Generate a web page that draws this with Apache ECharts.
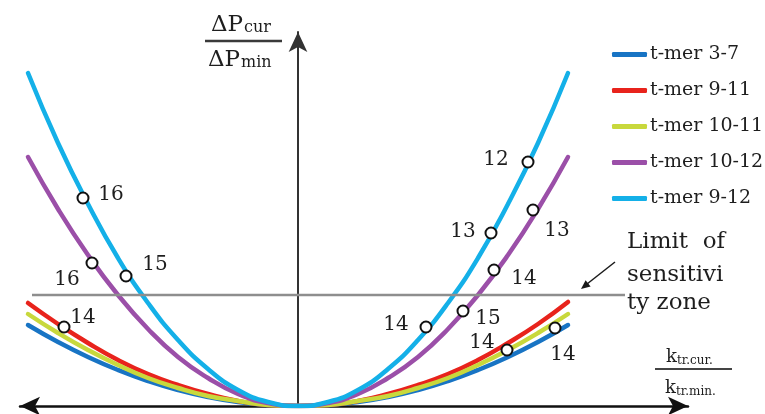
<!DOCTYPE html>
<html>
<head>
<meta charset="utf-8">
<script src="https://cdn.jsdelivr.net/npm/echarts@6.0.0/dist/echarts.min.js"></script>
<style>
  html, body { margin: 0; padding: 0; background: #ffffff; }
  #chart { width: 765px; height: 414px; }
</style>
</head>
<body>
<div id="chart"></div>
<script>
// Relative transformation ratio (0 = minimum-loss point) and relative loss increase
const ratioSteps = [-2.7, -2.4, -2.1, -1.8, -1.5, -1.2, -0.9, -0.6, -0.3, 0, 0.3, 0.6, 0.9, 1.2, 1.5, 1.8, 2.1, 2.4, 2.7];

const seriesNames = ['t-mer 3-7', 't-mer 9-11', 't-mer 10-11', 't-mer 10-12', 't-mer 9-12'];

const tmer3to7   = [0.81, 0.64, 0.49, 0.36, 0.25, 0.16, 0.09, 0.04, 0.01, 0, 0.01, 0.04, 0.09, 0.16, 0.25, 0.36, 0.49, 0.64, 0.81];
const tmer9to11  = [1.03, 0.82, 0.63, 0.46, 0.32, 0.21, 0.12, 0.05, 0.01, 0, 0.01, 0.05, 0.12, 0.21, 0.32, 0.46, 0.63, 0.82, 1.04];
const tmer10to11 = [0.92, 0.73, 0.56, 0.41, 0.28, 0.18, 0.10, 0.05, 0.01, 0, 0.01, 0.05, 0.10, 0.18, 0.28, 0.41, 0.56, 0.73, 0.92];
const tmer10to12 = [2.49, 1.97, 1.51, 1.11, 0.77, 0.49, 0.28, 0.12, 0.03, 0, 0.03, 0.12, 0.28, 0.49, 0.77, 1.11, 1.51, 1.97, 2.49];
const tmer9to12  = [3.33, 2.63, 2.02, 1.48, 1.03, 0.66, 0.37, 0.16, 0.04, 0, 0.04, 0.16, 0.37, 0.66, 1.03, 1.48, 2.02, 2.63, 3.33];

const seriesValues = [tmer3to7, tmer9to11, tmer10to11, tmer10to12, tmer9to12];
const seriesColors = ['#1874c4', '#e8231c', '#c8d83c', '#9b4fa8', '#14b0e8'];

// Sensitivity-zone limit
const limitLevel = 1.11;
const limitSpan = [-2.66, 3.27];

// Tap-position points: ratio, loss, tap number
const tapX     = [-2.15, -2.06, -1.72, -2.34, 2.30, 2.35, 1.93, 1.96, 1.65, 1.28, 2.09, 2.57];
const tapY     = [2.08, 1.43, 1.30, 0.79, 2.44, 1.96, 1.73, 1.36, 0.95, 0.79, 0.56, 0.78];
const tapLabel = ['16', '16', '15', '14', '12', '13', '13', '14', '15', '14', '14', '14'];

// label placement around each tap marker (pixels)
const tapLabelOffsets = [[28, -3], [-25, 17], [29, -11], [19, -9], [-32, -2], [24, 21], [-28, -1], [30, 9], [25, 8], [-30, -2], [-25, -7], [8, 27]];

const serif = 'DejaVu Serif';
const textColor = '#1e1e1e';

const chart = echarts.init(document.getElementById('chart'), null, { renderer: 'canvas' });

const curveSeries = seriesNames.map((name, i) => ({
  type: 'line',
  name: name,
  data: ratioSteps.map((x, j) => [x, seriesValues[i][j]]),
  smooth: true,
  showSymbol: false,
  silent: true,
  z: 3 + i,
  lineStyle: { width: 4.5, color: seriesColors[i], cap: 'round' },
  itemStyle: { color: seriesColors[i] }
}));

const limitSeries = {
  type: 'line',
  name: 'limit',
  data: [[limitSpan[0], limitLevel], [limitSpan[1], limitLevel]],
  showSymbol: false,
  silent: true,
  z: 9,
  lineStyle: { width: 2.5, color: '#8e8e8e' }
};

const tapSeries = {
  type: 'scatter',
  name: 'taps',
  z: 10,
  silent: true,
  symbol: 'circle',
  symbolSize: 11,
  itemStyle: { color: '#ffffff', borderColor: '#111111', borderWidth: 2, opacity: 1 },
  data: tapX.map((x, i) => ({
    value: [x, tapY[i]],
    label: {
      show: true,
      position: 'inside',
      offset: tapLabelOffsets[i],
      formatter: tapLabel[i],
      fontFamily: serif,
      fontSize: 20,
      color: textColor,
      textBorderWidth: 0
    }
  }))
};

const option = {
  backgroundColor: '#ffffff',
  animation: false,
  grid: { left: 20, right: 77, top: 32, bottom: 8 },
  xAxis: {
    type: 'value',
    min: -2.78,
    max: 3.90,
    axisLine: {
      show: true,
      onZero: true,
      symbol: ['arrow', 'arrow'],
      symbolSize: [14, 20],
      lineStyle: { color: '#111111', width: 2.5 }
    },
    axisTick: { show: false },
    axisLabel: { show: false },
    splitLine: { show: false }
  },
  yAxis: {
    type: 'value',
    min: 0,
    max: 3.74,
    axisLine: {
      show: true,
      onZero: true,
      symbol: ['none', 'arrow'],
      symbolSize: [14, 20],
      lineStyle: { color: '#333333', width: 2 }
    },
    axisTick: { show: false },
    axisLabel: { show: false },
    splitLine: { show: false }
  },
  legend: {
    data: seriesNames,
    orient: 'vertical',
    left: 607,
    top: 40,
    icon: 'roundRect',
    itemWidth: 35,
    itemHeight: 5,
    itemGap: 17,
    textStyle: { fontFamily: serif, fontSize: 19, color: textColor, lineHeight: 19, padding: [0, 0, 0, -2] }
  },
  series: [...curveSeries, limitSeries, tapSeries],
  graphic: [
    // vertical axis title: ΔPcur / ΔPmin
    { type: 'text', x: 211, y: 25, style: { text: 'ΔP', font: '23px "DejaVu Serif"', fill: textColor, verticalAlign: 'middle' } },
    { type: 'text', x: 244, y: 28, style: { text: 'cur', font: '16px "DejaVu Serif"', fill: textColor, verticalAlign: 'middle' } },
    { type: 'line', shape: { x1: 205, y1: 41, x2: 282, y2: 41 }, style: { stroke: '#3a3a3a', lineWidth: 2.5 } },
    { type: 'text', x: 208, y: 60, style: { text: 'ΔP', font: '23px "DejaVu Serif"', fill: textColor, verticalAlign: 'middle' } },
    { type: 'text', x: 241, y: 63, style: { text: 'min', font: '16px "DejaVu Serif"', fill: textColor, verticalAlign: 'middle' } },

    // horizontal axis title: ktr.cur. / ktr.min.
    { type: 'text', x: 666, y: 357, style: { text: 'k', font: '18px "DejaVu Serif"', fill: textColor, verticalAlign: 'middle' } },
    { type: 'text', x: 677, y: 361, style: { text: 'tr.cur.', font: '12px "DejaVu Serif"', fill: textColor, verticalAlign: 'middle' } },
    { type: 'line', shape: { x1: 655, y1: 369, x2: 732, y2: 369 }, style: { stroke: '#444444', lineWidth: 2 } },
    { type: 'text', x: 665, y: 388, style: { text: 'k', font: '18px "DejaVu Serif"', fill: textColor, verticalAlign: 'middle' } },
    { type: 'text', x: 676, y: 392, style: { text: 'tr.min.', font: '12px "DejaVu Serif"', fill: textColor, verticalAlign: 'middle' } },

    // sensitivity-zone note with pointer
    { type: 'text', x: 627, y: 242, style: { text: 'Limit  of', font: '23px "DejaVu Serif"', fill: textColor, verticalAlign: 'middle' } },
    { type: 'text', x: 627, y: 275, style: { text: 'sensitivi', font: '23px "DejaVu Serif"', fill: textColor, verticalAlign: 'middle' } },
    { type: 'text', x: 627, y: 303, style: { text: 'ty zone', font: '23px "DejaVu Serif"', fill: textColor, verticalAlign: 'middle' } },
    { type: 'line', shape: { x1: 615, y1: 262, x2: 587, y2: 284 }, style: { stroke: '#1a1a1a', lineWidth: 1.5 } },
    { type: 'polygon', shape: { points: [[581, 289], [590.6, 286.6], [585.6, 280.3]] }, style: { fill: '#1a1a1a' } }
  ]
};

chart.setOption(option);
</script>
</body>
</html>
